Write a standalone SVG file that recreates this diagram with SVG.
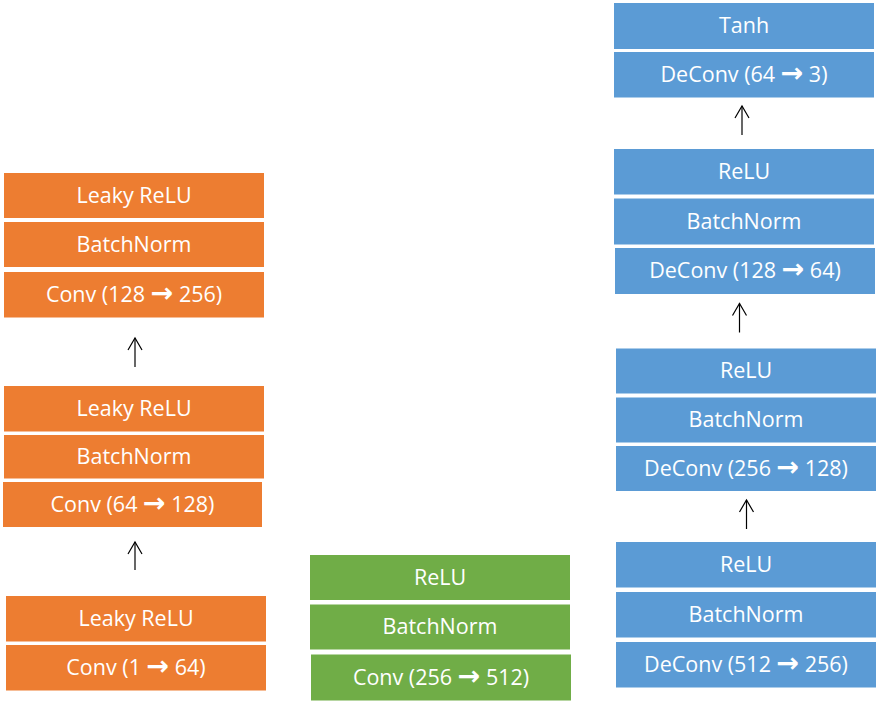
<svg xmlns="http://www.w3.org/2000/svg" width="879" height="707" viewBox="0 0 879 707">
<style>
.o{fill:#ED7D31}
.g{fill:#70AD47}
.b{fill:#5B9BD5}
text{font-family:"Open Sans","Liberation Sans",sans-serif;font-size:21.5px;fill:#FFFFFF;text-anchor:middle}
.a{font-family:"DejaVu Sans",sans-serif;font-weight:bold;font-size:27px}
.c line,.c polyline{stroke:#000;stroke-width:1.2;fill:none}
</style>
<rect width="879" height="707" fill="#FFFFFF"/>
<g id="enc1-lrelu"><rect class="o" x="4" y="173" width="260" height="45"/><text x="134" y="202.5">Leaky ReLU</text></g>
<g id="enc1-bn"><rect class="o" x="4" y="222" width="260" height="45"/><text x="134" y="251.5">BatchNorm</text></g>
<g id="enc1-conv"><rect class="o" x="4" y="272" width="260" height="45.5"/><text x="134" y="301.5">Conv (128 <tspan class="a">→</tspan> 256)</text></g>
<g id="enc2-lrelu"><rect class="o" x="4" y="386" width="260" height="45.5"/><text x="134" y="415.5">Leaky ReLU</text></g>
<g id="enc2-bn"><rect class="o" x="4" y="435" width="260" height="43.5"/><text x="134" y="463.5">BatchNorm</text></g>
<g id="enc2-conv"><rect class="o" x="3" y="482" width="259" height="45"/><text x="132.5" y="511.5">Conv (64 <tspan class="a">→</tspan> 128)</text></g>
<g id="enc3-lrelu"><rect class="o" x="6" y="596" width="260" height="45.5"/><text x="136" y="625.5">Leaky ReLU</text></g>
<g id="enc3-conv"><rect class="o" x="6" y="645" width="260" height="45.5"/><text x="136" y="674.5">Conv (1 <tspan class="a">→</tspan> 64)</text></g>
<g id="mid-relu"><rect class="g" x="310" y="555" width="260" height="45"/><text x="440" y="584.5">ReLU</text></g>
<g id="mid-bn"><rect class="g" x="310" y="604.5" width="260" height="45"/><text x="440" y="634">BatchNorm</text></g>
<g id="mid-conv"><rect class="g" x="311" y="654.5" width="260" height="46"/><text x="441" y="684.5">Conv (256 <tspan class="a">→</tspan> 512)</text></g>
<g id="dec1-tanh"><rect class="b" x="614" y="3" width="260" height="46"/><text x="744" y="33">Tanh</text></g>
<g id="dec1-deconv"><rect class="b" x="614" y="52" width="260" height="45.5"/><text x="744" y="81.5">DeConv (64 <tspan class="a">→</tspan> 3)</text></g>
<g id="dec2-relu"><rect class="b" x="614" y="149" width="260" height="45.5"/><text x="744" y="178.5">ReLU</text></g>
<g id="dec2-bn"><rect class="b" x="614" y="198.5" width="260" height="46"/><text x="744" y="228.5">BatchNorm</text></g>
<g id="dec2-deconv"><rect class="b" x="615" y="248" width="260" height="46"/><text x="745" y="278">DeConv (128 <tspan class="a">→</tspan> 64)</text></g>
<g id="dec3-relu"><rect class="b" x="616" y="348.5" width="260" height="45"/><text x="746" y="378">ReLU</text></g>
<g id="dec3-bn"><rect class="b" x="616" y="397.5" width="260" height="45"/><text x="746" y="427">BatchNorm</text></g>
<g id="dec3-deconv"><rect class="b" x="616" y="446" width="260" height="45"/><text x="746" y="475.5">DeConv (256 <tspan class="a">→</tspan> 128)</text></g>
<g id="dec4-relu"><rect class="b" x="616" y="542" width="260" height="45.5"/><text x="746" y="571.5">ReLU</text></g>
<g id="dec4-bn"><rect class="b" x="616" y="592" width="260" height="45.5"/><text x="746" y="621.5">BatchNorm</text></g>
<g id="dec4-deconv"><rect class="b" x="616" y="642" width="260" height="45.5"/><text x="746" y="671.5">DeConv (512 <tspan class="a">→</tspan> 256)</text></g>
<g id="connectors" class="c">
<line x1="135" y1="570" x2="135" y2="542"/><polyline points="128,554 135,542 142,554"/>
<line x1="135" y1="367" x2="135" y2="338"/><polyline points="128,350 135,338 142,350"/>
<line x1="746.5" y1="529" x2="746.5" y2="500"/><polyline points="739.5,512 746.5,500 753.5,512"/>
<line x1="739.5" y1="332.5" x2="739.5" y2="303.5"/><polyline points="732.5,315.5 739.5,303.5 746.5,315.5"/>
<line x1="742" y1="135" x2="742" y2="106"/><polyline points="735,118 742,106 749,118"/>
</g>
</svg>
